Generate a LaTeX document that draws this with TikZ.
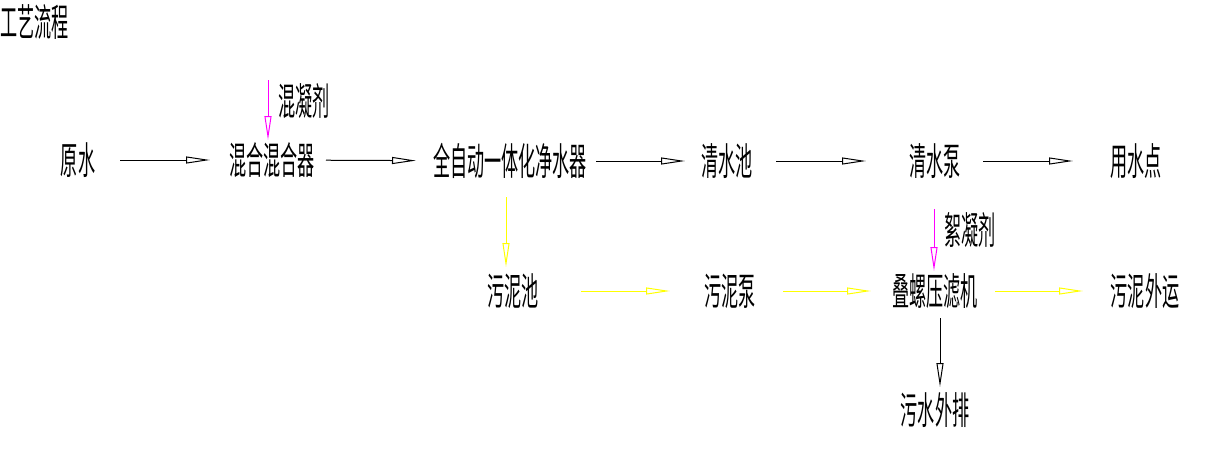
\documentclass[tikz,border=0pt]{standalone}
\usepackage{fontspec}
\newfontfamily\cjk{Noto Sans CJK SC}
\usetikzlibrary{arrows.meta}
\definecolor{dosecol}{RGB}{255,0,255}
\definecolor{sludgecol}{RGB}{255,255,0}
\newcommand{\narrow}[1]{\scalebox{0.45}[1]{#1}}
\tikzset{
	lbl/.style={font=\cjk\fontsize{19pt}{19pt}\selectfont, inner sep=0pt},
	flow/.style={line width=0.5pt, -{Triangle[open, length=12pt, width=3.5pt]}},
	water/.style={flow, black},
	dose/.style={flow, dosecol},
	sludge/.style={flow, sludgecol}
}
\begin{document}
\begin{tikzpicture}[x=0.5pt, y=-0.5pt]
			\useasboundingbox (0,0) rectangle (1223,461);
			% Title
			\node[lbl, anchor=west] (title) at (0,22) {\narrow{工艺流程}};
			% Water line
			\node[lbl] (raw) at (78,160) {\narrow{原水}};
			\node[lbl] (mixer) at (272,160) {\narrow{混合混合器}};
			\node[lbl] (purifier) at (510,161) {\narrow{全自动一体化净水器}};
			\node[lbl] (cleartank) at (727,161) {\narrow{清水池}};
			\node[lbl] (clearpump) at (935,161) {\narrow{清水泵}};
			\node[lbl] (use) at (1136,161) {\narrow{用水点}};
			% Sludge line
			\node[lbl] (sludgetank) at (513,291) {\narrow{污泥池}};
			\node[lbl] (sludgepump) at (730,291) {\narrow{污泥泵}};
			\node[lbl] (press) at (935,291) {\narrow{叠螺压滤机}};
			\node[lbl] (haul) at (1145,291) {\narrow{污泥外运}};
			\node[lbl] (drain) at (935,410) {\narrow{污水外排}};
			% Chemical dosing
			\node[lbl] (coag) at (304,101) {\narrow{混凝剂}};
			\node[lbl] (floc) at (970,230) {\narrow{絮凝剂}};
			\coordinate (coagin) at (268,80);
			\coordinate (flocin) at (934,209);
			% Horizontal connectors: from/to/shorten start/shorten end
			\foreach \a/\b/\s/\e in {raw/mixer/21/31, mixer/purifier/27/47, purifier/cleartank/43/21, cleartank/clearpump/24.5/34.5, clearpump/use/24/31.5} {
				\draw[water, shorten <=\s pt, shorten >=\e pt] (\a.center) -- (\b.center);
			}
			\foreach \a/\b/\s/\e in {sludgetank/sludgepump/34/30, sludgepump/press/26.5/32, press/haul/30/31} {
				\draw[sludge, shorten <=\s pt, shorten >=\e pt] (\a.center) -- (\b.center);
			}
			% Vertical connectors
			\draw[sludge, shorten <=18pt, shorten >=12pt] ([xshift=-2pt]purifier.center) -- ([xshift=-2pt]purifier.center |- sludgetank.center);
			\draw[water, shorten <=13.5pt, shorten >=11.5pt] ([xshift=2.5pt]press.center) -- ([xshift=2.5pt]press.center |- drain.center);
			\draw[dose, shorten >=10pt] (coagin) -- (coagin |- mixer.center);
			\draw[dose, shorten >=10pt] (flocin) -- (flocin |- press.center);
		\end{tikzpicture}
\end{document}
